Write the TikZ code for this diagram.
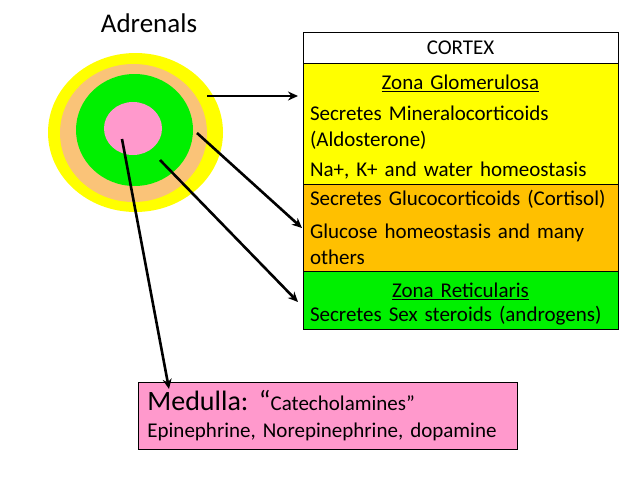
\documentclass[tikz,border=0pt]{standalone}
\usepackage{fontspec}
\setmainfont{Carlito}
\usetikzlibrary{arrows.meta, positioning, shapes.geometric}
\definecolor{ZoneYellow}{RGB}{255,255,0}
\definecolor{ZonePeach}{RGB}{250,195,120}
\definecolor{ZoneOrange}{RGB}{255,192,0}
\definecolor{ZoneGreen}{RGB}{0,240,0}
\definecolor{MedPink}{RGB}{255,153,204}
\newcommand{\rowline}[1]{\makebox[301pt][l]{#1}}

\tikzset{
  zonerow/.style={draw=black, line width=0.8pt, text width=301pt,
    inner xsep=7pt, inner ysep=0pt, outer sep=0pt, align=center,
    font=\fontsize{21}{26.5}\selectfont},
  layer/.style={ellipse, inner sep=0pt, draw=none},
  pointer/.style={-{Stealth[length=10pt,width=9pt]}, line width=2.6pt}
}

\begin{document}
\begin{tikzpicture}[x=1pt,y=-1pt]
\useasboundingbox (0,0) rectangle (638,479);

% gland, outside in
\node (title) at (149,23) {\fontsize{27}{32}\selectfont Adrenals};
\node[layer, fill=ZoneYellow, minimum width=175pt, minimum height=159pt] (glomlayer) at (135.5,132.5) {};
\node[layer, fill=ZonePeach, minimum width=147pt, minimum height=138pt] (fasclayer) at (133.5,133) {};
\node[layer, fill=ZoneGreen, minimum width=117pt, minimum height=112pt] (retlayer) at (134.5,130) {};
\node[layer, fill=MedPink, minimum width=58pt, minimum height=53pt] (medlayer) at (133,128.5) {};

% cortex table
\node[zonerow, fill=white, minimum height=31pt, anchor=north west] (cortex) at (303,32) {CORTEX};
\node[zonerow, fill=ZoneYellow, minimum height=121pt, below=0pt of cortex] (glom) {
  \rule{0pt}{22pt}\underline{Zona Glomerulosa}\\[4pt]
  \rowline{Secretes Mineralocorticoids}\\
  \rowline{(Aldosterone)}\\[3pt]
  \rowline{Na+, K+ and water homeostasis}};
\node[zonerow, fill=ZoneOrange, minimum height=87pt, below=0pt of glom] (fasc) {
  \rowline{Secretes Glucocorticoids (Cortisol)}\\[6pt]
  \rowline{Glucose homeostasis and many}\\
  \rowline{others}};
\node[zonerow, fill=ZoneGreen, minimum height=58pt, below=0pt of fasc] (retic) {
  \rule{0pt}{23pt}\underline{Zona Reticularis}\\[-3pt]
  \rowline{Secretes Sex steroids (androgens)}};

% medulla box
\node[draw=black, line width=0.8pt, fill=MedPink, anchor=north west,
  minimum width=379pt, minimum height=67pt, text width=361pt,
  inner xsep=9pt, align=left, font=\fontsize{21}{27}\selectfont] (medbox) at (138,382) {
  {\fontsize{28}{30}\selectfont Medulla: “}Catecholamines”\\
  Epinephrine, Norepinephrine, dopamine};

% pointers
\coordinate (glomfrom) at (207,96);
\coordinate (glomto) at (298,96);
\coordinate (fascfrom) at (197,133);
\coordinate (fascto) at (302,228);
\coordinate (reticfrom) at (160,160);
\coordinate (reticto) at (298,302);
\coordinate (medfrom) at (122,139);
\coordinate (medto) at (169,389);
\draw[pointer] (glomfrom) -- (glomto);
\draw[pointer] (fascfrom) -- (fascto);
\draw[pointer] (reticfrom) -- (reticto);
\draw[pointer] (medfrom) -- (medto);
\end{tikzpicture}
\end{document}
